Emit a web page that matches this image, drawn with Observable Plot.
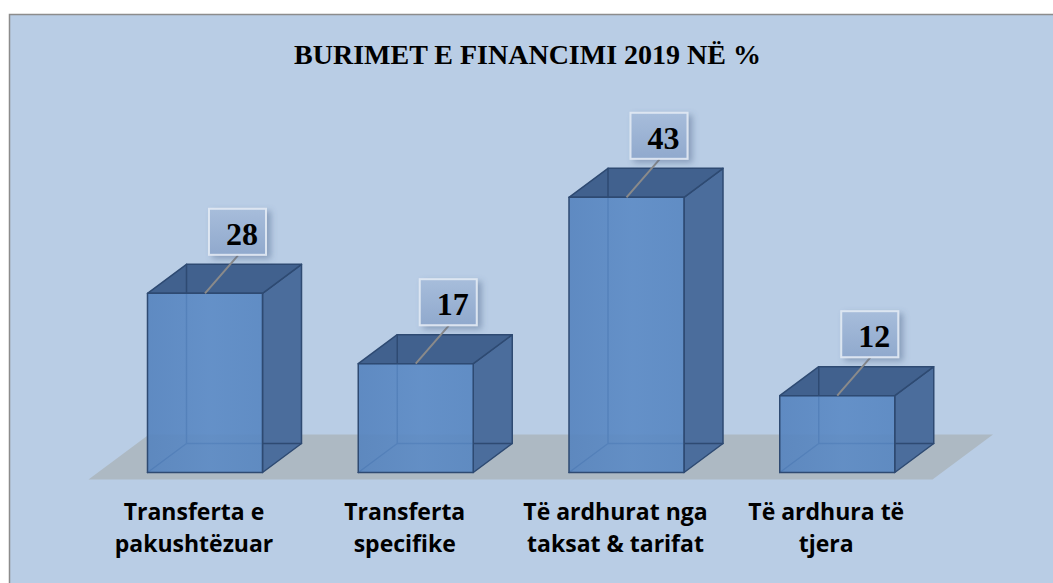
<!DOCTYPE html>
<html><head><meta charset="utf-8">
<script src="https://cdn.jsdelivr.net/npm/d3@7"></script>
<script src="https://cdn.jsdelivr.net/npm/@observablehq/plot@0.6"></script>
<style>html,body{margin:0;padding:0;background:#fff;} svg{display:block}</style>
</head><body><div id="chart"></div>
<script>
const title = "BURIMET E FINANCIMI 2019 NË %";
const categories = ["Transferta e\npakushtëzuar", "Transferta\nspecifike", "Të ardhurat nga\ntaksat & tarifat", "Të ardhura të\ntjera"];
const values = [28, 17, 43, 12];

// layout constants (pixels)
const W = 1053, H = 583;
const STEP = 210.75, X0 = 204.5;
const PXU = 6.4, BASE = 472;
const HW = 57.5 / STEP, DX = 39 / STEP, DY = 29 / PXU;

function ring(id, pts) { return [...pts, pts[0]].map(([x, y]) => ({id, x, y})); }
const fronts = [], sides = [], tops = [], inner = [];
values.forEach((v, i) => {
  const xl = i - HW, xr = i + HW;
  fronts.push(...ring(i, [[xl, 0], [xr, 0], [xr, v], [xl, v]]));
  sides.push(...ring(i, [[xr, 0], [xr + DX, DY], [xr + DX, v + DY], [xr, v]]));
  tops.push(...ring(i, [[xl, v], [xr, v], [xr + DX, v + DY], [xl + DX, v + DY]]));
  inner.push({id: i + "a", x: xl, y: 0}, {id: i + "a", x: xl + DX, y: DY}, {id: i + "a", x: xr + DX, y: DY});
  inner.push({id: i + "b", x: xl + DX, y: DY}, {id: i + "b", x: xl + DX, y: v + DY});
});
// floor
const fF = -7 / PXU, fB = 38 / PXU;
const fL = (88 - X0) / STEP, fR = (932 - X0) / STEP, fS = (45 / 29) * DX;
const floor = ring("f", [[fL, fF], [fR, fF], [fR + fS, fB], [fL + fS, fB]]);

// label boxes
const boxes = values.map((v, i) => {
  const bx = i + 33 / STEP;
  return {i, v, bx, x1: bx - 28.5 / STEP, x2: bx + 28.5 / STEP, y1: v + 38 / PXU, y2: v + 84 / PXU, ym: v + 61 / PXU};
});

const defs = () => {
  const ns = "http://www.w3.org/2000/svg";
  const d = document.createElementNS(ns, "defs");
  d.innerHTML = `
  <linearGradient id="gFront" x1="0" x2="1" y1="0" y2="0">
    <stop offset="0" stop-color="#5583BE"/><stop offset="0.55" stop-color="#5B8AC5"/><stop offset="1" stop-color="#5786C1"/>
  </linearGradient>
  <linearGradient id="gBox" x1="0" x2="0" y1="0" y2="1">
    <stop offset="0" stop-color="#A7BDDB"/><stop offset="1" stop-color="#90A9CD"/>
  </linearGradient>
  <filter id="shadow" x="-30%" y="-30%" width="170%" height="170%">
    <feDropShadow dx="4" dy="3" stdDeviation="3" flood-color="#4A6088" flood-opacity="0.45"/>
  </filter>`;
  return d;
};

const chart = Plot.plot({
  width: W, height: H,
  marginTop: 14, marginLeft: 9, marginRight: 0, marginBottom: 0,
  x: {domain: [-0.5, 3.5], range: [X0 - STEP / 2, X0 + 3.5 * STEP], axis: null},
  y: {domain: [0, 50], range: [BASE, BASE - 50 * PXU], axis: null},
  style: {background: "#fff", overflow: "visible"},
  marks: [
    defs,
    Plot.frame({fill: "#B9CDE5", stroke: "#8C8C8C", strokeWidth: 1.5, insetRight: -3, insetBottom: -3}),
    Plot.text([title], {frameAnchor: "top", lineAnchor: "top", dy: 30, dx: -4, text: d => d, fontFamily: "Liberation Serif", fontWeight: "bold", fontSize: 28, fill: "#000"}),
    Plot.line(floor, {x: "x", y: "y", z: "id", fill: "#ADB9C3", stroke: "none"}),
    Plot.line(sides, {x: "x", y: "y", z: "id", fill: "#4B6D9C", stroke: "#2E4A72", strokeWidth: 1.5, strokeLinejoin: "round"}),
    Plot.line(tops, {x: "x", y: "y", z: "id", fill: "#41618E", stroke: "#2E4A72", strokeWidth: 1.5, strokeLinejoin: "round"}),
    Plot.line(inner, {x: "x", y: "y", z: "id", stroke: "#2E4A72", strokeWidth: 1.5}),
    Plot.line(fronts, {x: "x", y: "y", z: "id", fill: "url(#gFront)", fillOpacity: 0.9, stroke: "#2E4A72", strokeWidth: 1.5, strokeLinejoin: "round"}),
    Plot.link(boxes, {x1: "i", y1: "v", x2: "bx", y2: "y1", stroke: "#8A8A8A", strokeWidth: 2}),
    Plot.rect(boxes, {x1: "x1", x2: "x2", y1: "y1", y2: "y2", fill: "url(#gBox)", stroke: "#E2EAF4", strokeWidth: 2, strokeOpacity: 0.9}),
    Plot.text(boxes, {x: "bx", y: "ym", text: d => String(d.v), dx: 4, dy: 2, fontFamily: "Liberation Serif", fontWeight: "bold", fontSize: 32, fill: "#000"}),
    Plot.text(categories, {x: (d, i) => i, text: d => d, frameAnchor: "bottom", lineAnchor: "top", dy: -86, dx: -11, fontFamily: "Open Sans", fontWeight: "bold", fontSize: 23, lineHeight: 32 / 23, fill: "#000"})
  ]
});
d3.select(chart).selectAll('g[aria-label="rect"] rect').attr("filter", "url(#shadow)");
document.getElementById("chart").appendChild(chart);
</script></body></html>
